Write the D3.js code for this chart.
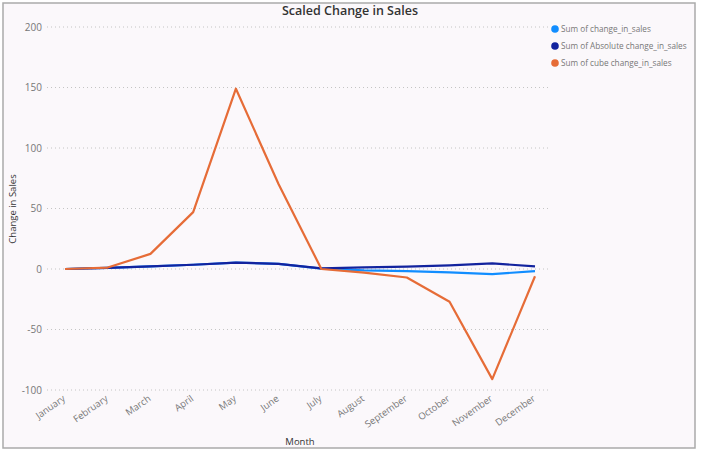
<!DOCTYPE html>
<html>
<head>
<meta charset="utf-8">
<script src="https://cdn.jsdelivr.net/npm/d3@7"></script>
<style>
  body { margin: 0; background: #fff; }
  svg { display: block; font-family: "Open Sans", "Noto Sans", sans-serif; }
</style>
</head>
<body>
<svg id="chart" width="720" height="454"></svg>
<script>
"use strict";

// data
const months = ["January", "February", "March", "April", "May", "June",
                "July", "August", "September", "October", "November", "December"];
const changeInSales = [0, 1, 2.2, 3.5, 5.3, 4.2, 0.3, -1.2, -1.8, -2.8, -4.2, -1.8];
const absChangeInSales = [0, 1, 2.2, 3.5, 5.3, 4.2, 0.5, 1.4, 1.9, 3, 4.6, 2.2];
const cubeChangeInSales = [0, 1.2, 12.5, 47, 149, 70, 0, -3, -7, -27, -91, -6];
const yTicks = [-100, -50, 0, 50, 100, 150, 200];

const seriesNames = ["Sum of change_in_sales", "Sum of Absolute change_in_sales", "Sum of cube change_in_sales"];
const seriesColors = ["#118DFF", "#12239E", "#E66C37"];
const seriesValues = [changeInSales, absChangeInSales, cubeChangeInSales];



// setting
const frame = {x: 3, y: 3, w: 692, h: 445};
const plot = {left: 47, right: 550, top: 27, bottom: 390};

let svg = d3.select("#chart");



// frame
svg.append("rect")
.attr("x", frame.x)
.attr("y", frame.y)
.attr("width", frame.w)
.attr("height", frame.h)
.attr("fill", "#fbf8fb")
.attr("stroke", "#aaaaaa")
.attr("stroke-width", 1.5);



// scales
let scaleX = d3.scalePoint()
.domain(months)
.range([65, 535]);

let scaleY = d3.scaleLinear()
.domain([-100, 200])
.range([plot.bottom, plot.top]);



// grid lines + y ticks
let grid = svg.append("g").attr("class", "grid");
grid.selectAll("line")
.data(yTicks)
.enter()
.append("line")
.attr("x1", plot.left)
.attr("x2", plot.right)
.attr("y1", d => scaleY(d))
.attr("y2", d => scaleY(d))
.attr("stroke", "#c4c4c4")
.attr("stroke-width", 1)
.attr("stroke-dasharray", "1,3");

grid.selectAll("text")
.data(yTicks)
.enter()
.append("text")
.attr("x", 42)
.attr("y", d => scaleY(d))
.attr("dy", "0.35em")
.attr("text-anchor", "end")
.attr("font-size", 10)
.attr("fill", "#777")
.text(d => d);



// x ticks
svg.append("g")
.attr("class", "x_ticks")
.selectAll("text")
.data(months)
.enter()
.append("text")
.attr("transform", d => `translate(${scaleX(d) + 1}, 400) rotate(-35)`)
.attr("text-anchor", "end")
.attr("font-size", 9.5)
.attr("fill", "#777")
.text(d => d);



// lines
let line = d3.line()
.x((d, i) => scaleX(months[i]))
.y(d => scaleY(d));

svg.append("g")
.attr("class", "lines")
.selectAll("path")
.data(seriesValues)
.enter()
.append("path")
.attr("d", d => line(d))
.attr("fill", "none")
.attr("stroke", (d, i) => seriesColors[i])
.attr("stroke-width", 2.2)
.attr("stroke-linejoin", "round");



// legend
let legend = svg.append("g").attr("class", "legend");
seriesNames.forEach((name, i) => {
    let row = legend.append("g")
    .attr("transform", `translate(555, ${29 + i * 17})`);
    row.append("circle")
    .attr("r", 3.8)
    .attr("fill", seriesColors[i]);
    row.append("text")
    .attr("x", 6)
    .attr("dy", "0.35em")
    .attr("font-size", 8.2)
    .attr("fill", "#777")
    .text(name);
});



// title + axis labels
svg.append("text")
.attr("x", 350)
.attr("y", 15)
.attr("text-anchor", "middle")
.attr("font-size", 12.5)
.attr("font-weight", 600)
.attr("fill", "#333")
.text("Scaled Change in Sales");

svg.append("text")
.attr("transform", `translate(16, 209) rotate(-90)`)
.attr("text-anchor", "middle")
.attr("font-size", 9.5)
.attr("fill", "#333")
.text("Change in Sales");

svg.append("text")
.attr("x", 300)
.attr("y", 445)
.attr("text-anchor", "middle")
.attr("font-size", 9.5)
.attr("fill", "#333")
.text("Month");
</script>
</body>
</html>
